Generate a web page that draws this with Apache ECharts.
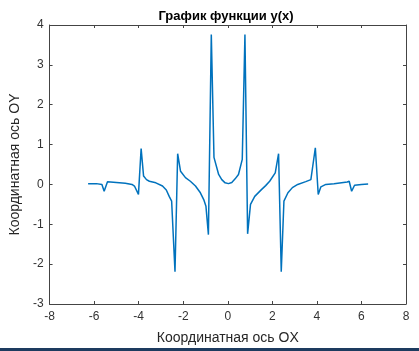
<!DOCTYPE html>
<html>
<head>
<meta charset="utf-8">
<script src="https://cdn.jsdelivr.net/npm/echarts@6/dist/echarts.min.js"></script>
<style>
  html, body { margin: 0; padding: 0; background: #fff; }
  #main { width: 419px; height: 351px; }
</style>
</head>
<body>
<div id="main"></div>
<script>
// точки кривой
const xValues = [-6.27, -5.9, -5.65, -5.55, -5.40, -5.0, -4.6, -4.3, -4.19, -4.01, -3.89, -3.78, -3.65, -3.52, -3.23,
  -2.93, -2.76, -2.63, -2.52, -2.37, -2.25, -2.12, -1.90, -1.68, -1.45, -1.23, -1.08, -0.98, -0.87, -0.74,
  -0.62, -0.41, -0.27, -0.12, 0.03, 0.18, 0.33, 0.48, 0.65, 0.77, 0.89, 1.02, 1.21, 1.51, 1.70, 1.88, 2.13, 2.28, 2.40, 2.52,
  2.70, 2.90, 3.14, 3.5, 3.73, 3.93, 4.06, 4.18, 4.4, 4.77, 5.36, 5.45, 5.56, 5.69, 6.0, 6.30];
const yValues = [0.02, 0.02, 0.0, -0.17, 0.07, 0.05, 0.03, 0.0, -0.04, -0.25, 0.90, 0.21, 0.12, 0.08, 0.04,
  -0.04, -0.14, -0.30, -0.42, -2.19, 0.77, 0.33, 0.17, 0.08, -0.04, -0.21, -0.38, -0.55, -1.26, 3.76,
  0.68, 0.25, 0.12, 0.04, 0.02, 0.05, 0.14, 0.25, 0.63, 3.76, -1.24, -0.50, -0.30, -0.13, -0.03, 0.08, 0.29, 0.77, -2.19, -0.42,
  -0.21, -0.08, 0.0, 0.07, 0.12, 0.92, -0.25, -0.06, 0.0, 0.02, 0.06, 0.08, -0.17, -0.02, 0.0, 0.01];
const xTicks = [-8, -6, -4, -2, 0, 2, 4, 6, 8];
const yTicks = [-3, -2, -1, 0, 1, 2, 3, 4];

const axisColor = '#444';
const font = 'Liberation Sans, Arial, sans-serif';

const points = xValues.map((x, i) => [x, yValues[i]]);

const chart = echarts.init(document.getElementById('main'));

const baseAxis = {
    type: 'value',
    axisLine: { show: true, onZero: false, lineStyle: { color: axisColor, width: 1 } },
    axisTick: { show: true, inside: true, length: 3, lineStyle: { color: axisColor } },
    splitLine: { show: false }
};

const option = {
    animation: false,
    grid: { left: 46, right: 13, top: 25, bottom: 47 },
    xAxis: [
        Object.assign({}, baseAxis, {
            position: 'bottom',
            min: xTicks[0], max: xTicks[xTicks.length - 1], interval: 2,
            name: 'Координатная ось OX',
            nameLocation: 'middle',
            nameGap: 27,
            nameTextStyle: { fontFamily: font, fontSize: 14, color: '#262626' },
            axisLabel: { fontFamily: font, fontSize: 12, color: '#333', margin: 7 }
        }),
        Object.assign({}, baseAxis, {
            position: 'top',
            min: xTicks[0], max: xTicks[xTicks.length - 1], interval: 2,
            axisLabel: { show: false }
        })
    ],
    yAxis: [
        Object.assign({}, baseAxis, {
            position: 'left',
            min: yTicks[0], max: yTicks[yTicks.length - 1], interval: 1,
            name: 'Координатная ось OY',
            nameLocation: 'middle',
            nameGap: 24,
            nameTextStyle: { fontFamily: font, fontSize: 14, color: '#262626' },
            axisLabel: { fontFamily: font, fontSize: 12, color: '#333', margin: 6 }
        }),
        Object.assign({}, baseAxis, {
            position: 'right',
            min: yTicks[0], max: yTicks[yTicks.length - 1], interval: 1,
            axisLabel: { show: false }
        })
    ],
    graphic: [
        {
            type: 'text',
            x: 226,
            y: 16,
            style: {
                text: 'График функции y(x)',
                fontFamily: font, fontSize: 13, fontWeight: 'bold', fill: '#000',
                align: 'center', verticalAlign: 'middle'
            }
        },
        {
            type: 'rect',
            left: 0,
            bottom: 0,
            shape: { width: 419, height: 3 },
            style: { fill: '#1d3b5f' }
        }
    ],
    series: [{
        type: 'line',
        data: points,
        showSymbol: false,
        lineStyle: { color: '#0072BD', width: 1.5 },
        itemStyle: { color: '#0072BD' }
    }]
};

chart.setOption(option);
</script>
</body>
</html>
